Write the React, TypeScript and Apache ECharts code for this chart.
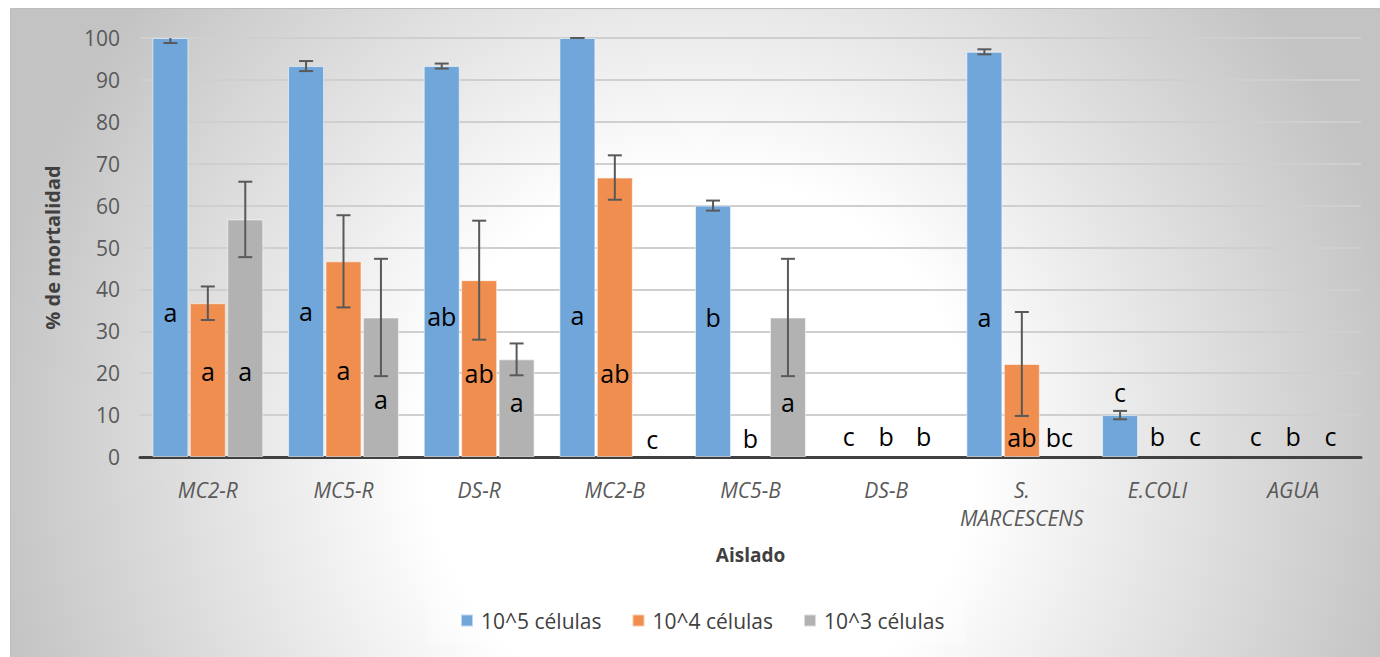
import React, { useEffect, useRef } from "react";
import * as echarts from "echarts";

const categories = ["MC2-R", "MC5-R", "DS-R", "MC2-B", "MC5-B", "DS-B", "S.\nMARCESCENS", "E.COLI", "AGUA"];
const seriesNames = ["10^5 células", "10^4 células", "10^3 células"];

const v5 = [100, 93.3, 93.3, 100, 60, 0, 96.7, 10, 0];
const v4 = [36.7, 46.7, 42.2, 66.7, 0, 0, 22.2, 0, 0];
const v3 = [56.7, 33.3, 23.3, 0, 33.3, 0, 0, 0, 0];

const err5 = [1.2, 1.2, 0.6, 0, 1.2, null, 0.6, 1, null];
const err4 = [4, 11, 14.2, 5.3, null, null, 12.4, null, null];
const err3 = [9, 14, 3.8, null, 14, null, null, null, null];

const lab5 = ["a", "a", "ab", "a", "b", "c", "a", "c", "c"];
const lab4 = ["a", "a", "ab", "ab", "b", "b", "ab", "b", "b"];
const lab3 = ["a", "a", "a", "c", "a", "b", "bc", "c", "c"];
const labY5 = [34.6, 34.8, 33.7, 33.9, 33.4, 5, 33.4, 15.5, 5];
const labY4 = [20.5, 20.8, 20, 20, 4.5, 5, 4.8, 5, 5];
const labY3 = [20.5, 13.8, 13.1, 4.3, 13.1, 5, 4.8, 5, 5];

const yTicks = { min: 0, max: 100, interval: 10 };

const FONT = "'Open Sans', 'Noto Sans', sans-serif";
const BAR_W = 36;
const GAP_PCT = 4;
const STEP = BAR_W + (BAR_W * GAP_PCT) / 100;
const COLORS = ["#70a6da", "#ef8e4e", "#b2b2b2"];

export default function App() {
  const ref = useRef<HTMLDivElement>(null);

  useEffect(() => {
    if (!ref.current) return;
    const chart = echarts.init(ref.current, null, { renderer: "svg" });

    const values = [v5, v4, v3];
    const errs = [err5, err4, err3];
    const labs = [lab5, lab4, lab3];
    const labYs = [labY5, labY4, labY3];

    const errData: number[][] = [];
    errs.forEach((arr, s) =>
      arr.forEach((e, i) => {
        if (e !== null && e !== undefined) errData.push([i, s, values[s][i], e]);
      })
    );
    const labData: any[] = [];
    labs.forEach((arr, s) =>
      arr.forEach((t, i) => {
        labData.push({ value: [i, s, labYs[s][i]], label: t });
      })
    );

    const bg = new echarts.graphic.RadialGradient(
      700,
      450,
      720,
      [
        { offset: 0, color: "#ffffff" },
        { offset: 0.38, color: "#ffffff" },
        { offset: 1, color: "#c3c3c3" },
      ],
      true
    );

    chart.setOption({
      animation: false,
      backgroundColor: "#ffffff",
      graphic: {
        elements: [
          {
            type: "rect",
            z: -100,
            silent: true,
            shape: { x: 10.5, y: 8.5, width: 1370, height: 649 },
            style: { fill: bg, stroke: "#bdbdbd", lineWidth: 1 },
          },
        ],
      },
      grid: { left: 140, right: 19, top: 38, bottom: 200, containLabel: false },
      legend: {
        data: seriesNames,
        left: 429,
        top: 598,
        icon: "rect",
        itemWidth: 12,
        itemHeight: 12,
        itemGap: 30,
        padding: [12, 22, 12, 31],
        backgroundColor: "rgba(255,255,255,0.25)",
        textStyle: { fontFamily: FONT, fontSize: 21, color: "#404040", padding: [0, 0, 0, 3] },
      },
      xAxis: {
        type: "category",
        data: categories,
        name: "Aislado",
        nameLocation: "middle",
        nameGap: 88,
        nameTextStyle: { fontFamily: FONT, fontSize: 19, fontWeight: "bold", color: "#404040" },
        axisLine: { lineStyle: { color: "#404040", width: 3 } },
        axisTick: { show: false },
        axisLabel: {
          interval: 0,
          margin: 19,
          fontFamily: FONT,
          fontSize: 21,
          fontStyle: "italic",
          color: "#595959",
          lineHeight: 28,
        },
      },
      yAxis: {
        type: "value",
        min: yTicks.min,
        max: yTicks.max,
        interval: yTicks.interval,
        name: "% de mortalidad",
        nameLocation: "middle",
        nameGap: 78,
        nameRotate: 90,
        nameTextStyle: { fontFamily: FONT, fontSize: 20, fontWeight: "bold", color: "#404040" },
        axisLine: { show: false },
        axisTick: { show: false },
        axisLabel: { fontFamily: FONT, fontSize: 21, color: "#595959", margin: 20 },
        splitLine: { lineStyle: { color: "#cfcfcf", width: 2 } },
      },
      series: [
        ...seriesNames.map((name, s) => ({
          name,
          type: "bar",
          data: values[s].map((v) => (v === 0 ? "-" : v)),
          barWidth: BAR_W,
          barGap: GAP_PCT + "%",
          itemStyle: { color: COLORS[s], borderColor: "rgba(255,255,255,0.55)", borderWidth: 1 },
          z: 2,
        })),
        {
          type: "custom",
          name: "err",
          z: 4,
          silent: true,
          data: errData,
          encode: { x: 0, y: 2 },
          renderItem: (params: any, api: any) => {
            const cat = api.value(0);
            const s = api.value(1);
            const v = api.value(2);
            const e = api.value(3);
            const x = api.coord([cat, v])[0] + (s - 1) * STEP;
            const hiV = Math.min(v + e, yTicks.max);
            const loV = Math.max(v - e, 0);
            const yHi = api.coord([cat, hiV])[1];
            const yLo = api.coord([cat, loV])[1];
            const st = { stroke: "#595959", lineWidth: 2 };
            const children: any[] = [
              { type: "line", shape: { x1: x, y1: yHi, x2: x, y2: yLo }, style: st },
              { type: "line", shape: { x1: x - 7, y1: yLo, x2: x + 7, y2: yLo }, style: st },
            ];
            if (v + e <= yTicks.max) {
              children.push({ type: "line", shape: { x1: x - 7, y1: yHi, x2: x + 7, y2: yHi }, style: st });
            }
            return { type: "group", children };
          },
        },
        {
          type: "custom",
          name: "letters",
          z: 5,
          silent: true,
          data: labData,
          encode: { x: 0, y: 2 },
          renderItem: (params: any, api: any) => {
            const cat = api.value(0);
            const s = api.value(1);
            const y = api.value(2);
            const p = api.coord([cat, y]);
            const item = labData[params.dataIndex];
            return {
              type: "text",
              x: p[0] + (s - 1) * STEP,
              y: p[1],
              style: {
                text: item.label,
                fill: "#000000",
                fontFamily: FONT,
                fontSize: 25,
                align: "center",
                verticalAlign: "middle",
              },
            };
          },
        },
      ],
    });

    return () => chart.dispose();
  }, []);

  return (
    <div
      ref={ref}
      style={{ position: "absolute", left: 0, top: 0, width: 1380, height: 657 }}
    />
  );
}
